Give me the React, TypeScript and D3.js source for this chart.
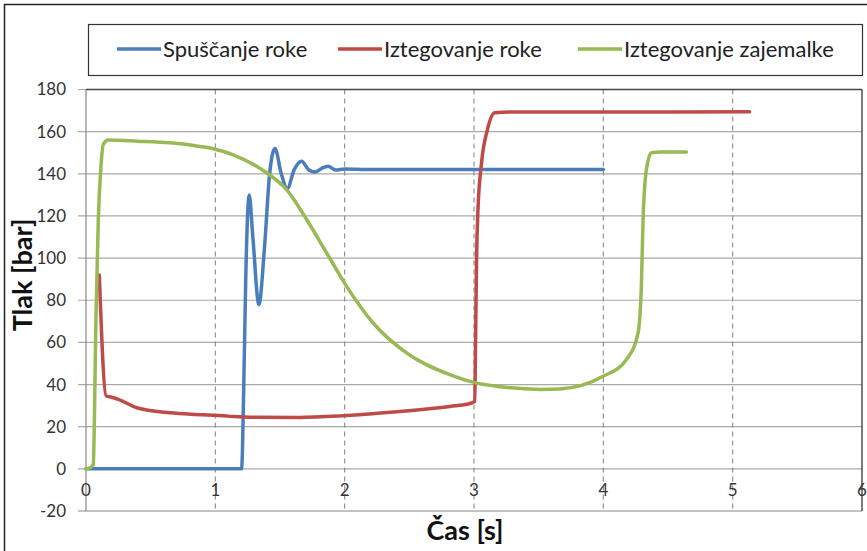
import React from "react";
import * as d3 from "d3";

const W = 867;
const H = 551;
const M = { top: 89.5, right: 5, bottom: 40, left: 86 };

const xTicks = [0, 1, 2, 3, 4, 5, 6];
const yTicks = [-20, 0, 20, 40, 60, 80, 100, 120, 140, 160, 180];

const seriesNames = ["Spuščanje roke", "Iztegovanje roke", "Iztegovanje zajemalke"];
const seriesColors = ["#4a7ebb", "#be4b48", "#98b954"];

// Spuščanje roke
const blueT = [0, 1.203, 1.22, 1.235, 1.262, 1.29, 1.337, 1.38, 1.42, 1.461, 1.51, 1.556, 1.61, 1.667, 1.72, 1.77, 1.82, 1.872, 1.93, 2.0, 2.2, 3.0, 4.0];
const blueV = [0, 0, 40, 90, 130, 110, 78, 105, 140, 152, 140, 133, 142, 146, 142, 140.8, 142.5, 143.6, 141.8, 142.3, 142, 142, 142];

// Iztegovanje roke
const redT = [0.103, 0.155, 0.199, 0.25, 0.392, 0.649, 0.904, 1.113, 1.267, 1.654, 1.986, 2.426, 2.813, 2.968, 3.006, 3.012, 3.02, 3.03, 3.058, 3.104, 3.16, 3.3, 4.0, 5.13];
const redV = [92, 34.7, 34, 33, 29, 26.6, 25.7, 24.9, 24.5, 24.4, 25.2, 27.2, 29.6, 31, 32, 60, 100, 122, 145, 161, 169, 169.3, 169.3, 169.4];

// Iztegovanje zajemalke
const greenT = [0, 0.031, 0.056, 0.077, 0.095, 0.114, 0.134, 0.172, 0.4, 0.649, 0.881, 0.984, 1.138, 1.396, 1.551, 1.706, 1.86, 2.015, 2.22, 2.478, 2.813, 3.006, 3.2, 3.51, 3.663, 3.998, 4.178, 4.268, 4.294, 4.307, 4.333, 4.372, 4.45, 4.642];
const greenV = [0, 0.5, 2, 71, 118, 142, 154, 156, 155.5, 154.7, 153, 151.9, 149, 140.5, 132.5, 118.3, 102.5, 86.6, 69.2, 55, 44.7, 40.9, 39, 37.7, 37.9, 43.9, 51.8, 64.4, 86.6, 118, 142, 150, 150.3, 150.4];

const series = [
  { t: blueT, v: blueV },
  { t: redT, v: redV },
  { t: greenT, v: greenV },
];

const FONT = "Lato, 'Open Sans', sans-serif";

export default function App() {
  const x = d3.scaleLinear().domain([0, 6]).range([M.left, 862]);
  const y = d3.scaleLinear().domain([-20, 180]).range([511, M.top]);

  const line = d3
    .line<[number, number]>()
    .x((d) => x(d[0]))
    .y((d) => y(d[1]))
    .curve(d3.curveMonotoneX);

  const legendX = [117, 338, 578];

  return (
    <svg width={W} height={H} style={{ position: "absolute", left: 0, top: 0, background: "#fff" }}>
      {/* outer frame */}
      <rect x={4.5} y={4.5} width={W + 10} height={H + 10} fill="none" stroke="#222" strokeWidth={1.5} />

      {/* legend */}
      <rect x={88.5} y={24.5} width={774} height={51} fill="#fff" stroke="#333" strokeWidth={1.2} />
      {seriesNames.map((name, i) => (
        <g key={name}>
          <line x1={legendX[i]} x2={legendX[i] + 44} y1={49} y2={49} stroke={seriesColors[i]} strokeWidth={3.5} />
          <text x={legendX[i] + 46} y={56.5} fontFamily={FONT} fontSize={22} fill="#222">
            {name}
          </text>
        </g>
      ))}

      {/* horizontal grid */}
      {yTicks.map((t) => (
        <line key={"h" + t} x1={78} x2={x(6)} y1={y(t)} y2={y(t)} stroke={t === -20 ? "#888" : "#a9a9a9"} strokeWidth={1.2} />
      ))}
      {/* vertical dashed grid */}
      {xTicks.slice(1, 6).map((t) => (
        <line key={"v" + t} x1={x(t)} x2={x(t)} y1={y(180)} y2={y(-20)} stroke="#8a8a8a" strokeWidth={1.1} strokeDasharray="5,4" />
      ))}
      {/* plot frame */}
      <line x1={x(0)} x2={x(6)} y1={y(180)} y2={y(180)} stroke="#444" strokeWidth={1.4} />
      <line x1={x(6)} x2={x(6)} y1={y(180)} y2={y(-20)} stroke="#444" strokeWidth={1.4} />
      <line x1={x(0)} x2={x(0)} y1={y(180)} y2={y(-20)} stroke="#888" strokeWidth={1.2} />

      {/* y tick labels */}
      {yTicks.map((t) => (
        <text key={"yl" + t} x={66} y={y(t)} dy="0.35em" textAnchor="end" fontFamily={FONT} fontSize={17} fill="#333">
          {t}
        </text>
      ))}
      {/* x tick labels */}
      {xTicks.map((t) => (
        <text key={"xl" + t} x={x(t)} y={490} dy="0.35em" textAnchor="middle" fontFamily={FONT} fontSize={17} fill="#333">
          {t}
        </text>
      ))}

      {/* series */}
      {series.map((s, i) => (
        <path
          key={"s" + i}
          d={line(s.t.map((t, j) => [t, s.v[j]] as [number, number])) || ""}
          fill="none"
          stroke={seriesColors[i]}
          strokeWidth={3.5}
          strokeLinejoin="round"
          strokeLinecap="round"
        />
      ))}

      {/* axis titles */}
      <text x={465} y={540} textAnchor="middle" fontFamily={FONT} fontSize={27} fontWeight="bold" fill="#111">
        Čas [s]
      </text>
      <text
        transform={`translate(32,275) rotate(-90)`}
        textAnchor="middle"
        fontFamily={FONT}
        fontSize={27}
        fontWeight="bold"
        fill="#111"
      >
        Tlak [bar]
      </text>
    </svg>
  );
}
